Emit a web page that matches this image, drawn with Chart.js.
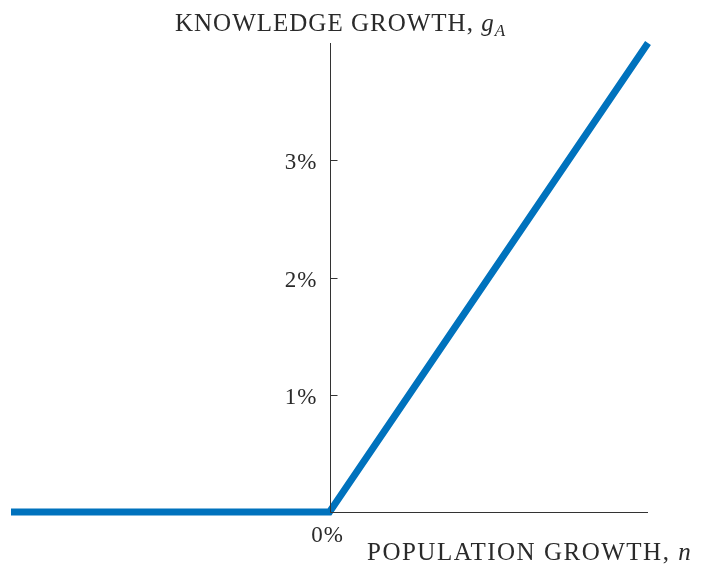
<!DOCTYPE html>
<html>
<head>
<meta charset="utf-8">
<script src="https://cdn.jsdelivr.net/npm/chart.js@4"></script>
<style>
  body { margin: 0; background: #fff; }
  #wrap { width: 717px; height: 564px; }
</style>
</head>
<body>
<div id="wrap"><canvas id="chart" width="717" height="564"></canvas></div>
<script>
// population growth n (relative units) and knowledge growth gA (%)
const popGrowth = [-1, 0, 1];
const knowGrowth = [0, 0, 4];
const yTicks = [1, 2, 3];
const yTickLabels = ['1%', '2%', '3%'];
const originLabel = '0%';

const FONT = '"Liberation Serif", "DejaVu Serif", serif';
const INK = '#2a2a2a';

// draws the axes by hand (half-open frame through the origin)
const axesPlugin = {
  id: 'axes',
  afterDatasetsDraw(chart) {
    const ctx = chart.ctx;
    const x = chart.scales.x, y = chart.scales.y;
    const x0 = Math.round(x.getPixelForValue(0)) + 0.5;
    const y0 = Math.round(y.getPixelForValue(0)) + 0.5;
    const xEnd = x.getPixelForValue(1);
    const yTop = y.getPixelForValue(4);

    ctx.save();
    ctx.strokeStyle = '#333';
    ctx.lineWidth = 1;
    ctx.beginPath();
    ctx.moveTo(x0, yTop);
    ctx.lineTo(x0, y0);
    ctx.lineTo(xEnd, y0);
    ctx.stroke();

    ctx.fillStyle = INK;
    ctx.font = '23px ' + FONT;
    ctx.letterSpacing = '1px';
    ctx.textAlign = 'right';
    ctx.textBaseline = 'alphabetic';
    yTicks.forEach((v, i) => {
      const py = Math.round(y.getPixelForValue(v)) + 0.5;
      ctx.beginPath();
      ctx.moveTo(x0, py);
      ctx.lineTo(x0 + 7, py);
      ctx.stroke();
      ctx.fillText(yTickLabels[i], x0 - 13, py + 8);
    });

    ctx.textAlign = 'center';
    ctx.fillText(originLabel, x0 - 3, y0 + 29);

    // axis titles
    ctx.textAlign = 'left';
    ctx.font = '25px ' + FONT;
    let t = 'KNOWLEDGE GROWTH, ';
    let tx = 175;
    ctx.fillText(t, tx, 31);
    tx += ctx.measureText(t).width;
    ctx.font = 'italic 25px ' + FONT;
    ctx.fillText('g', tx, 31);
    tx += ctx.measureText('g').width;
    ctx.font = 'italic 17px ' + FONT;
    ctx.fillText('A', tx, 36);

    ctx.letterSpacing = '1.5px';
    ctx.font = '25px ' + FONT;
    t = 'POPULATION GROWTH, ';
    tx = 367;
    ctx.fillText(t, tx, 560);
    tx += ctx.measureText(t).width;
    ctx.font = 'italic 25px ' + FONT;
    ctx.fillText('n', tx, 560);
    ctx.restore();
  }
};

new Chart(document.getElementById('chart'), {
  type: 'line',
  data: {
    datasets: [{
      data: popGrowth.map((v, i) => ({ x: v, y: knowGrowth[i] })),
      borderColor: '#0072bd',
      borderWidth: 7,
      pointRadius: 0,
      tension: 0,
      clip: false,
      borderCapStyle: 'butt',
      borderJoinStyle: 'miter'
    }]
  },
  options: {
    responsive: false,
    animation: false,
    layout: { padding: { left: 11, right: 69, top: 43, bottom: 52 } },
    plugins: { legend: { display: false }, tooltip: { enabled: false } },
    scales: {
      x: { type: 'linear', min: -1, max: 1, display: false },
      y: { type: 'linear', min: 0, max: 4, display: false }
    }
  },
  plugins: [axesPlugin]
});
</script>
</body>
</html>
